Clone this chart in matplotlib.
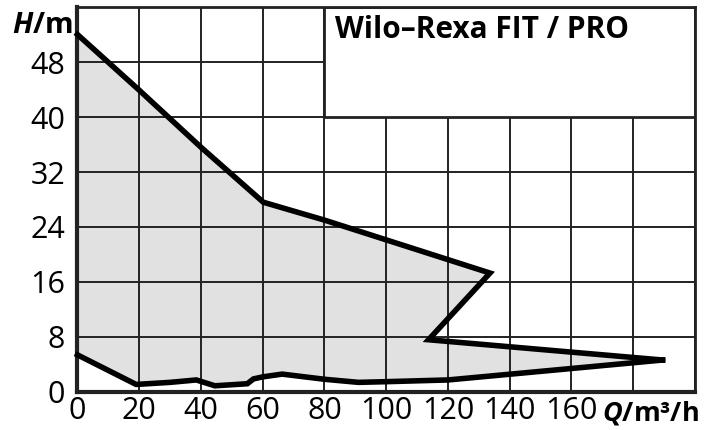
import numpy as np
import matplotlib.pyplot as plt
from matplotlib.patches import Rectangle, Polygon
from matplotlib import font_manager

# Upper curve (left to right), then lower curve (right to left)
upper_q = [0, 20, 40, 60.2, 80, 133.6, 113.7, 189.5]
upper_h = [52, 43.9, 35.6, 27.6, 25.0, 17.3, 7.6, 4.65]
lower_q = [189.5, 120, 100, 91, 80, 66.3, 60, 57, 55, 44.5, 38.5, 30, 19, 0]
lower_h = [4.65, 1.75, 1.5, 1.4, 1.85, 2.6, 2.2, 1.9, 1.2, 0.9, 1.75, 1.4, 1.1, 5.4]

x_ticks = [0, 20, 40, 60, 80, 100, 120, 140, 160]
y_ticks = [0, 8, 16, 24, 32, 40, 48]
title = 'Wilo\u2013Rexa FIT / PRO'

# pick the narrowest sans that is installed
installed = {f.name for f in font_manager.fontManager.ttflist}
wanted = ['Liberation Sans Narrow', 'DejaVu Sans Condensed', 'Open Sans', 'DejaVu Sans']
family = [f for f in wanted if f in installed] or ['DejaVu Sans']

plt.rcParams['font.family'] = family
plt.rcParams['mathtext.fontset'] = 'custom'
plt.rcParams['mathtext.bfit'] = family[0] + ':bold:italic'

fig = plt.figure(figsize=(7.12, 4.3), dpi=100)
ax = fig.add_axes([0.1088, 0.0884, 0.9761 - 0.1088, 0.9837 - 0.0884])
ax.set_xlim(0, 200)
ax.set_ylim(0, 56)

# grid
ax.set_xticks(np.arange(0, 201, 20))
ax.set_yticks(np.arange(0, 57, 8))
ax.grid(True, color='#222222', lw=1.4, zorder=1)
ax.set_axisbelow(True)
ax.tick_params(length=0, labelsize=22, pad=3)
ax.tick_params(axis='y', pad=9)
ax.set_xticklabels([str(v) for v in x_ticks] + ['', ''])
ax.set_yticklabels([str(v) for v in y_ticks] + [''])

for s in ['left', 'bottom']:
    ax.spines[s].set_linewidth(3)
for s in ['top', 'right']:
    ax.spines[s].set_linewidth(2)
for s in ax.spines.values():
    s.set_color('#222222')

# filled envelope
pts = list(zip(upper_q, upper_h)) + list(zip(lower_q, lower_h))
ax.add_patch(Polygon(pts, closed=True, facecolor='#e1e1e1', edgecolor='none', zorder=0.5))
ax.plot(upper_q, upper_h, color='black', lw=4, solid_joinstyle='miter', zorder=3, clip_on=False)
ax.plot(lower_q, lower_h, color='black', lw=4, solid_joinstyle='miter', zorder=3, clip_on=False)

# title box
ax.add_patch(Rectangle((80, 40), 120, 16, facecolor='white', edgecolor='#222222', lw=2, zorder=2))
ax.text(83.3, 52.6, title, fontsize=21.5, fontweight='bold', va='center', ha='left', zorder=4)

# axis labels in tick positions
fig.text(0.103, 0.94, r'$\mathbfit{H}$/m', fontsize=21, fontweight='bold', ha='right', va='center')
fig.text(0.982, 0.04, r'$\mathbfit{Q}$/m³/h', fontsize=19.5, fontweight='bold', ha='right', va='center')

fig.savefig('out.png', dpi=100)
